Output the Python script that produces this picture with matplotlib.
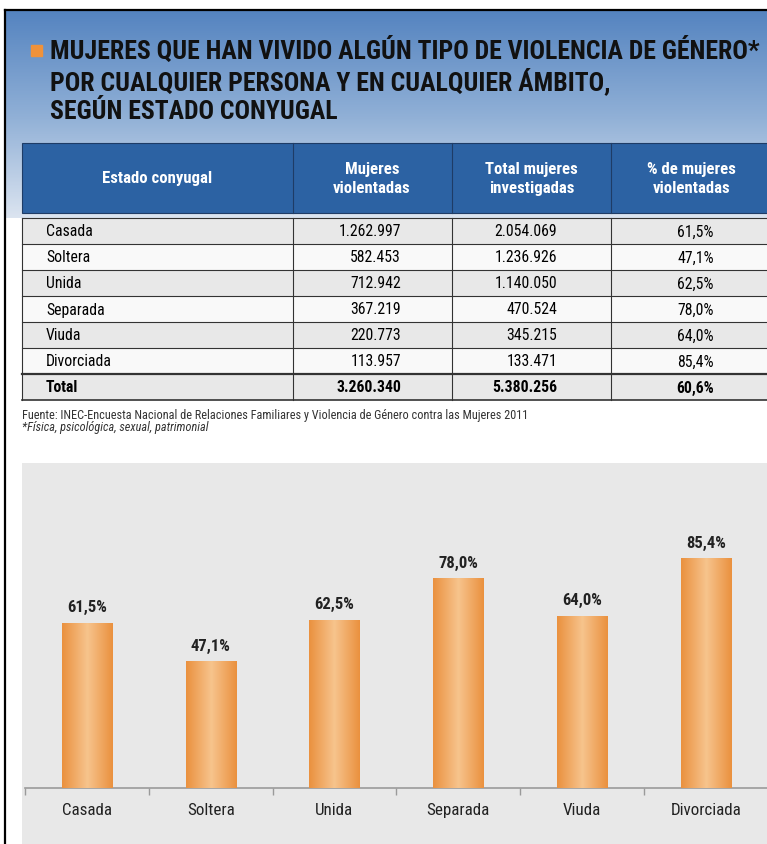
import numpy as np
import matplotlib
matplotlib.use("Agg")
import matplotlib.pyplot as plt
from matplotlib import font_manager
from matplotlib.patches import Rectangle
from matplotlib.colors import LinearSegmentedColormap

# datos (INEC 2011)
estados = ["Casada", "Soltera", "Unida", "Separada", "Viuda", "Divorciada"]
mujeres_violentadas = [1262997, 582453, 712942, 367219, 220773, 113957]
total_investigadas = [2054069, 1236926, 1140050, 470524, 345215, 133471]
porcentaje = [61.5, 47.1, 62.5, 78.0, 64.0, 85.4]
total_violentadas = 3260340
total_mujeres = 5380256
porcentaje_total = 60.6
encabezados = ["Estado conyugal", "Mujeres\nviolentadas", "Total mujeres\ninvestigadas", "% de mujeres\nviolentadas"]
titulo = ["MUJERES QUE HAN VIVIDO ALGÚN TIPO DE VIOLENCIA DE GÉNERO*",
          "POR CUALQUIER PERSONA Y EN CUALQUIER ÁMBITO,",
          "SEGÚN ESTADO CONYUGAL"]
fuente_txt = "Fuente: INEC-Encuesta Nacional de Relaciones Familiares y Violencia de Género contra las Mujeres 2011"
nota = "*Física, psicológica, sexual, patrimonial"


def elegir(preferidas):
  pesos = {}
  for f in font_manager.fontManager.ttflist:
    w = f.weight if isinstance(f.weight, int) else 400
    pesos.setdefault(f.name, set()).add(w)
  for p in preferidas:
    if p in pesos and max(pesos[p]) >= 600:
      return p
  return None


fam = elegir(["Liberation Sans Narrow", "Arial Narrow", "Roboto Condensed", "PT Sans Narrow",
              "Pragati Narrow", "Fira Sans Condensed", "Barlow Semi Condensed"])
if fam is None:
  fam = "DejaVu Sans"
  plt.rcParams["font.stretch"] = "condensed"
plt.rcParams["font.family"] = [fam, "DejaVu Sans"]


def miles(v):
  return f"{v:,}".replace(",", ".")


def pct(p):
  return f"{p:.1f}%".replace(".", ",")


W, H = 767, 844
fig = plt.figure(figsize=(W / 100, H / 100), dpi=100)
fig.patch.set_facecolor("white")
rend = fig.canvas.get_renderer()


def ajustar(t, ancho):
  # escala el tamaño de letra para que el texto ocupe el ancho de la referencia
  w = t.get_window_extent(rend).width
  t.set_fontsize(t.get_fontsize() * ancho / w)
  return t.get_fontsize()


# lienzo en pixeles
bg = fig.add_axes([0, 0, 1, 1])
bg.set_xlim(0, W)
bg.set_ylim(H, 0)
bg.axis("off")

# degradado azul del encabezado
azul = LinearSegmentedColormap.from_list("azul", ["#5584c0", "#8fafd6", "#dbe4f0"])
grad = np.linspace(0, 1, 200).reshape(-1, 1)
bg.imshow(grad, cmap=azul, extent=[5, W, 218, 11], aspect="auto", zorder=0)

# marco
bg.plot([5, 5], [10, H], color="black", lw=1.6, zorder=5)
bg.plot([5, W], [10, 10], color="black", lw=1.6, zorder=5)

# titulo
bg.add_patch(Rectangle((31, 45), 11, 11, color="#f0923a", zorder=3))
t2 = bg.text(50, 81, titulo[1], fontsize=17, fontweight="bold", color="#111111",
             va="center", ha="left", zorder=3)
tam = ajustar(t2, 562)
for i in (0, 2):
  bg.text(50, 50 + i * 31, titulo[i], fontsize=tam, fontweight="bold", color="#111111",
          va="center", ha="left", zorder=3)

# tabla
col_x = [22, 293, 452, 611, 772]
bg.add_patch(Rectangle((col_x[0], 143), col_x[-1] - col_x[0], 70, facecolor="#2c62a3",
                       edgecolor="#1e3c66", lw=0.8, zorder=2))
for x in col_x[1:-1]:
  bg.plot([x, x], [143, 213], color="#1e3c66", lw=0.8, zorder=3)
th = bg.text(372, 179, encabezados[1], color="white", fontsize=11, fontweight="bold",
             ha="center", va="center", linespacing=1.4, zorder=4)
tam_enc = ajustar(th, 77)
for j, enc in enumerate(encabezados):
  if j == 1:
    continue
  bg.text((col_x[j] + col_x[j + 1]) / 2, 179, enc, color="white", fontsize=tam_enc,
          fontweight="bold", ha="center", va="center", linespacing=1.4, zorder=4)

filas = [[e, miles(a), miles(b), pct(p)]
         for e, a, b, p in zip(estados, mujeres_violentadas, total_investigadas, porcentaje)]
filas.append(["Total", miles(total_violentadas), miles(total_mujeres), pct(porcentaje_total)])

prueba = bg.text(0, -50, "1.262.997", fontsize=11)
tam_fila = ajustar(prueba, 63)
prueba.remove()

y0, alto = 218, 26
der = [None, 401, 557, 714]
for i, fila in enumerate(filas):
  top = y0 + i * alto
  color = "#e8e8e8" if i % 2 == 0 else "#f9f9f9"
  bg.add_patch(Rectangle((col_x[0], top), col_x[-1] - col_x[0], alto, facecolor=color,
                         edgecolor="none", zorder=2))
  bg.plot([col_x[0], col_x[-1]], [top, top], color="#333333",
          lw=1.6 if fila[0] == "Total" else 0.8, zorder=3)
  peso = "bold" if fila[0] == "Total" else "normal"
  yc = top + alto / 2 + 1
  bg.text(46, yc, fila[0], fontsize=tam_fila, fontweight=peso, ha="left", va="center", zorder=4)
  for j in range(1, 4):
    bg.text(der[j], yc, fila[j], fontsize=tam_fila, fontweight=peso, ha="right", va="center", zorder=4)
fondo = y0 + len(filas) * alto
bg.plot([col_x[0], col_x[-1]], [fondo, fondo], color="#333333", lw=1.2, zorder=3)
for x in col_x[:-1]:
  bg.plot([x, x], [y0, fondo], color="#333333", lw=0.8, zorder=3)

tf = bg.text(22, 415, fuente_txt, fontsize=6.6, ha="left", va="center", color="#333333")
tam_nota = ajustar(tf, 510)
bg.text(22, 428, nota, fontsize=tam_nota, ha="left", va="center", style="italic", color="#333333")

# panel del grafico
bg.add_patch(Rectangle((22, 463), W - 22, H - 463, facecolor="#e8e8e8", edgecolor="none", zorder=1))

# grafico de barras
base, tope = 788, 463
ax = fig.add_axes([25 / W, 1 - base / H, (W + 0.6 - 25) / W, (base - tope) / H])
ax.set_facecolor("none")
escala = 2.69
ax.set_xlim(-0.5, 5.5)
ax.set_ylim(0, (base - tope) / escala)
pos = np.arange(len(estados))
barras = ax.bar(pos, porcentaje, width=0.405, color="#ef9a4a", zorder=2)

naranja = LinearSegmentedColormap.from_list("nar", ["#ea913f", "#f7c48d", "#ea913f"])
perfil = np.linspace(0, 1, 100).reshape(1, -1)
tl = ax.text(0, -50, "61,5%", fontsize=11, fontweight="bold")
tam_lab = ajustar(tl, 40)
tl.remove()
for b in barras:
  im = ax.imshow(perfil, cmap=naranja, aspect="auto", zorder=3,
                 extent=[b.get_x(), b.get_x() + b.get_width(), 0, b.get_height()])
  im.set_clip_path(b)
  ax.text(b.get_x() + b.get_width() / 2, b.get_height() + 15 / escala, pct(b.get_height()),
          ha="center", va="center", fontsize=tam_lab, fontweight="bold", color="#222222")

tc = ax.text(0, -50, "Casada", fontsize=11)
tam_cat = ajustar(tc, 50)
tc.remove()

for s in ["top", "right", "left"]:
  ax.spines[s].set_visible(False)
ax.spines["bottom"].set_color("#9a9a9a")
ax.spines["bottom"].set_linewidth(1.2)
ax.set_yticks([])
ax.set_xticks(pos)
ax.set_xticklabels(estados, fontsize=tam_cat, color="#222222")
ax.tick_params(axis="x", which="major", length=0, pad=11)
ax.set_xticks(np.arange(-0.5, 6, 1), minor=True)
ax.tick_params(axis="x", which="minor", length=5, width=1, color="#9a9a9a", direction="out")

fig.savefig("out.png", dpi=100)
